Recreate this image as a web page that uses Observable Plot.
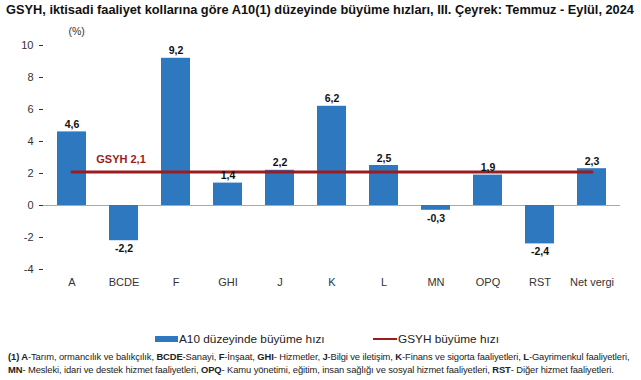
<!DOCTYPE html>
<html><head><meta charset="utf-8">
<script src="https://cdn.jsdelivr.net/npm/d3@7"></script>
<script src="https://cdn.jsdelivr.net/npm/@observablehq/plot@0.6"></script>
<style>
body{margin:0;background:#fff;font-family:"Liberation Sans",Arial,sans-serif;width:641px;height:380px;overflow:hidden}
#title{font-size:12.8px;font-weight:bold;color:#111;height:20px;line-height:20px;padding-left:6px;white-space:nowrap}
#legend{position:relative;font-size:11.8px;color:#222;height:22px;margin-top:8px}
.li{position:absolute;top:0;height:22px;display:flex;align-items:center;white-space:nowrap}
.sw{display:inline-block;width:23px;height:6px;background:#2e78c0;margin-right:1px}
.ln{display:inline-block;width:24px;height:2px;background:#9b1c20;margin-right:1px}
#foot{font-size:9.4px;color:#222;padding-left:8px;line-height:13px;white-space:nowrap;letter-spacing:-0.1px}
</style></head><body>
<div id="title">GSYH, iktisadi faaliyet kollarına göre A10(1) düzeyinde büyüme hızları, III. Çeyrek: Temmuz - Eylül, 2024</div>
<div id="chart"></div>
<div id="legend"><span class="li" style="left:155px"><span class="sw"></span>A10 düzeyinde büyüme hızı</span><span class="li" style="left:373px"><span class="ln"></span>GSYH büyüme hızı</span></div>
<div id="foot"><b>(1) A</b>-Tarım, ormancılık ve balıkçılık, <b>BCDE</b>-Sanayi, <b>F</b>-İnşaat, <b>GHI</b>- Hizmetler, <b>J</b>-Bilgi ve iletişim, <b>K</b>-Finans ve sigorta faaliyetleri, <b>L</b>-Gayrimenkul faaliyetleri,<br><b>MN</b>- Mesleki, idari ve destek hizmet faaliyetleri, <b>OPQ</b>- Kamu yönetimi, eğitim, insan sağlığı ve sosyal hizmet faaliyetleri, <b>RST</b>- Diğer hizmet faaliyetleri.</div>
<script>
const categories = ["A","BCDE","F","GHI","J","K","L","MN","OPQ","RST","Net vergi"];
const growth = [4.6,-2.2,9.2,1.4,2.2,6.2,2.5,-0.3,1.9,-2.4,2.3];
const gsyh = 2.1;
const yTicks = [-4,-2,0,2,4,6,8,10];

const data = categories.map((c,i)=>({cat:c, v:growth[i]}));
const fmt = v => String(v.toFixed(1)).replace(".", ",");

const chart = Plot.plot({
  width:641, height:300,
  marginTop:25, marginBottom:51, marginLeft:43, marginRight:21,
  style:{fontFamily:"Liberation Sans, Arial, sans-serif", fontSize:"11px", color:"#333"},
  x:{domain:categories, paddingInner:0.44, paddingOuter:0.22, axis:"bottom", tickSize:0, tickPadding:9, label:null},
  y:{domain:[-4,10], ticks:yTicks, label:null, tickSize:4, tickPadding:6, tickFormat:d=>String(d)},
  marks:[
    Plot.ruleX([0],{frameAnchor:"left", stroke:"#aaa"}),
    Plot.ruleY([0],{stroke:"#aaa"}),
    Plot.barY(data,{x:"cat", y:"v", fill:"#2e78c0"}),
    Plot.lineY(categories,{x:d=>d, y:()=>gsyh, stroke:"#9b1c20", strokeWidth:3}),
    Plot.text(data,{x:"cat", y:"v", text:d=>fmt(d.v), lineAnchor:"bottom", fontWeight:"bold", fontSize:10.5, fill:"#111",
      filter:d=>d.v>=0, dy:-4}),
    Plot.text(data,{x:"cat", y:"v", text:d=>fmt(d.v), lineAnchor:"top", fontWeight:"bold", fontSize:10.5, fill:"#111",
      filter:d=>d.v<0, dy:4}),
    Plot.text([gsyh],{x:()=>"BCDE", y:d=>d, text:d=>"GSYH "+fmt(d), dx:-3, dy:-12, fill:"#9b1c20", fontWeight:"bold", fontSize:11, style:"letter-spacing:0.5px"}),
    Plot.text(["(%)"],{frameAnchor:"top-left", dx:25, dy:-18, fontSize:10.5, fill:"#333"})
  ]
});
document.getElementById("chart").appendChild(chart);
</script>
</body></html>
